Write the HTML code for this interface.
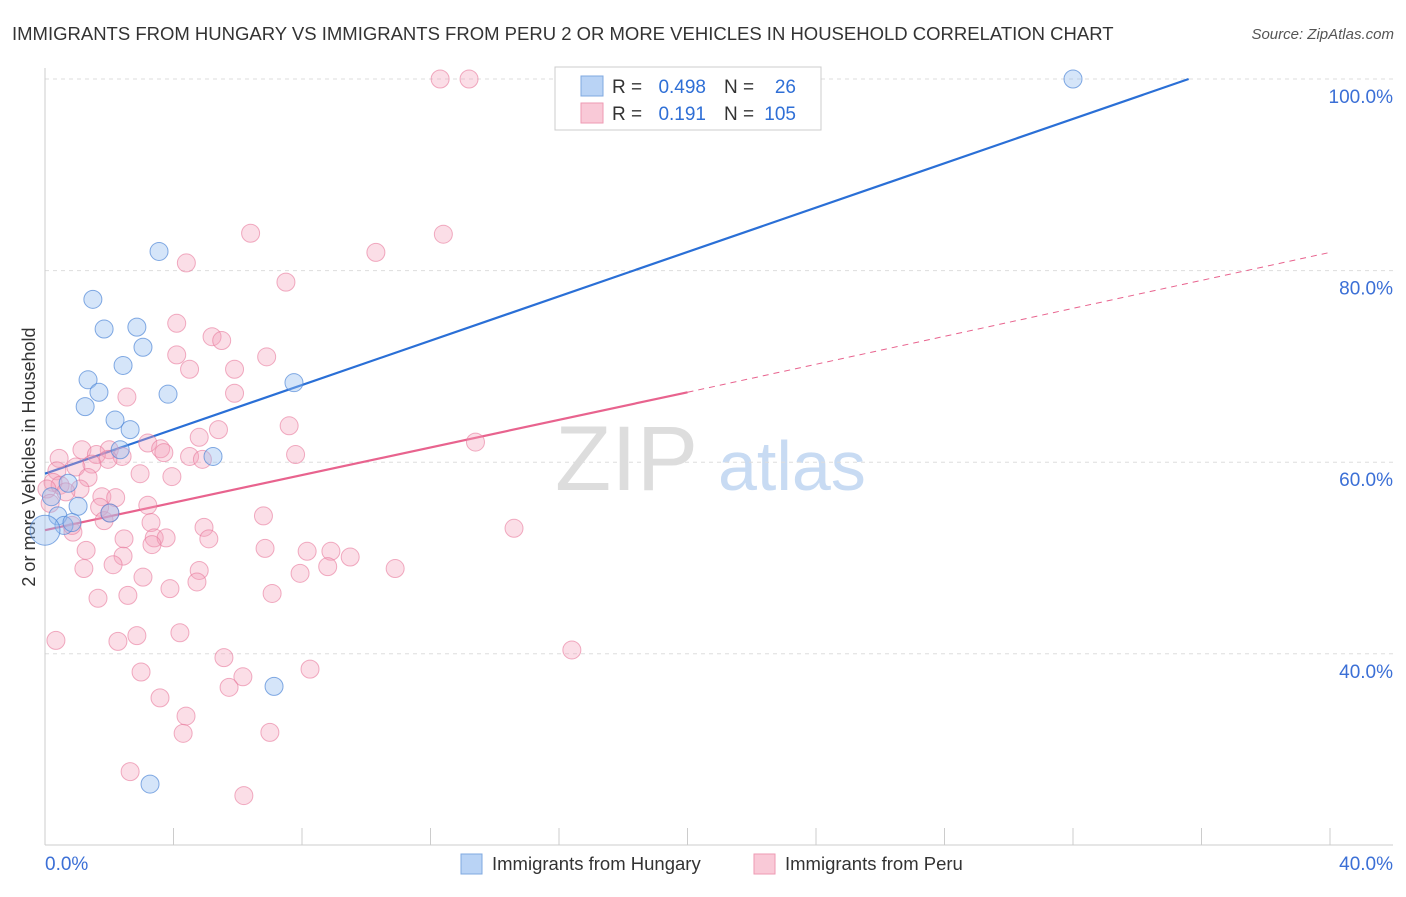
<!DOCTYPE html>
<html><head><meta charset="utf-8"><style>
body{margin:0;background:#fff;font-family:"Liberation Sans",sans-serif;}
svg text{font-family:"Liberation Sans",sans-serif;}
</style></head><body>
<svg width="1406" height="892" xmlns="http://www.w3.org/2000/svg">
<text x="12" y="40" font-size="18.5" fill="#333">IMMIGRANTS FROM HUNGARY VS IMMIGRANTS FROM PERU 2 OR MORE VEHICLES IN HOUSEHOLD CORRELATION CHART</text>
<text x="1394" y="39" font-size="15" fill="#555" font-style="italic" text-anchor="end">Source: ZipAtlas.com</text>
<text x="35" y="457" font-size="18" fill="#333" text-anchor="middle" transform="rotate(-90 35 457)">2 or more Vehicles in Household</text>
<g><text x="555" y="490" font-size="92" fill="#ddd" font-family="Liberation Serif">ZIP</text><text x="718" y="490" font-size="70" fill="#c8dbf3">atlas</text></g>
<g id="grid"></g><g id="axes"></g><g id="lines"></g><g id="pts"></g>
<g>
<rect x="555" y="67" width="266" height="63" fill="#fff" stroke="#ccc"/>
<rect x="581" y="76" width="22" height="20" fill="#b9d3f5" stroke="#7fa8e0"/>
<rect x="581" y="103" width="22" height="20" fill="#f9c9d7" stroke="#ee9ab3"/>
<text x="612" y="93" font-size="19" fill="#333">R =</text>
<text x="706" y="93" font-size="19" fill="#2f6fd6" text-anchor="end">0.498</text>
<text x="724" y="93" font-size="19" fill="#333">N =</text>
<text x="796" y="93" font-size="19" fill="#2f6fd6" text-anchor="end">26</text>
<text x="612" y="120" font-size="19" fill="#333">R =</text>
<text x="706" y="120" font-size="19" fill="#2f6fd6" text-anchor="end">0.191</text>
<text x="724" y="120" font-size="19" fill="#333">N =</text>
<text x="796" y="120" font-size="19" fill="#2f6fd6" text-anchor="end">105</text>
</g>
<g>
<rect x="461" y="854" width="21" height="20" fill="#b9d3f5" stroke="#7fa8e0"/>
<text x="492" y="870" font-size="18.5" fill="#333">Immigrants from Hungary</text>
<rect x="754" y="854" width="21" height="20" fill="#f9c9d7" stroke="#ee9ab3"/>
<text x="785" y="870" font-size="18.5" fill="#333">Immigrants from Peru</text>
</g>
</svg>
<script>
const yTicks=[40,60,80,100];
const xTickLabels=["0.0%","40.0%"];
const hungaryX=[32.0,3.55,1.49,1.84,2.86,3.05,2.43,1.34,7.75,1.68,3.83,1.25,2.18,2.65,2.34,5.23,0.72,1.03,2.02,0.40,0.59,0.84,0,7.13,3.27,0.2];
const hungaryY=[100,82.0,77.0,73.9,74.1,72.0,70.1,68.6,68.3,67.3,67.1,65.8,64.4,63.4,61.3,60.6,57.8,55.4,54.7,54.4,53.4,53.7,52.9,36.6,26.4,56.4];
const peruX=[12.3,13.2,6.4,12.4,10.3,4.4,7.5,4.1,5.2,5.5,4.1,6.9,4.5,5.9,5.9,2.55,7.6,5.4,13.4,4.8,3.2,3.6,3.7,2.0,1.15,1.6,2.4,7.8,4.5,4.9,0.44,1.96,1.46,0.96,0.37,2.96,3.95,1.34,0.25,0.47,0.06,1.09,0.65,1.77,2.2,3.2,1.7,6.8,1.84,3.3,4.95,0.87,3.4,5.1,2.46,3.77,14.6,3.33,6.85,8.16,8.9,9.5,1.28,2.43,4.8,2.12,1.21,8.8,7.94,10.9,3.05,4.73,3.89,2.58,7.07,1.65,0.34,2.86,4.2,2.27,16.4,5.57,2.99,8.25,6.16,5.73,3.58,4.39,4.3,7.0,2.65,6.19,0.16,0.84,2.02];
const peruY=[100,100,83.9,83.8,81.9,80.8,78.8,74.5,73.1,72.7,71.2,71.0,69.7,69.7,67.2,66.8,63.8,63.4,62.1,62.6,62.0,61.4,61.0,61.3,61.3,60.8,60.6,60.8,60.6,60.3,60.4,60.3,59.8,59.5,59.1,58.8,58.5,58.4,57.9,57.6,57.2,57.2,56.9,56.4,56.3,55.5,55.3,54.4,53.9,53.7,53.2,52.7,52.1,52.0,52.0,52.1,53.1,51.4,51.0,50.7,50.7,50.1,50.8,50.2,48.7,49.3,48.9,49.1,48.4,48.9,48.0,47.5,46.8,46.1,46.3,45.8,41.4,41.9,42.2,41.3,40.4,39.6,38.1,38.4,37.6,36.5,35.4,33.5,31.7,31.8,27.7,25.2,55.7,53.4,54.7];
const hungaryTrend=[[0,58.8],[35.6,100]];
const peruTrend=[[0,52.9],[20,67.3],[40,81.9]];
const NS="http://www.w3.org/2000/svg";
const sx=v=>45+v*32.125, sy=v=>1037-v*9.58;
function mk(tag,attrs,parent){const e=document.createElementNS(NS,tag);for(const k in attrs)e.setAttribute(k,attrs[k]);parent.appendChild(e);return e;}
const grid=document.getElementById('grid'),axes=document.getElementById('axes'),lines=document.getElementById('lines'),pts=document.getElementById('pts');
yTicks.forEach(t=>{
 const l=mk('line',{x1:45,x2:1393,y1:sy(t),y2:sy(t),stroke:'#ddd','stroke-dasharray':'4,4'},grid);
 
 
 const tx=mk('text',{x:1393,y:sy(t)+24,'font-size':19,fill:'#3b6fd6','text-anchor':'end'},axes);
 tx.textContent=t.toFixed(1)+'%';
 
 
});
const xa=mk('line',{x1:45,x2:1393,y1:845,y2:845,stroke:'#ccc'},axes);


const ya=mk('line',{x1:45,x2:45,y1:68,y2:845,stroke:'#ccc'},axes);


for(let i=0;i<=10;i++){const t=mk('line',{x1:sx(i*4),x2:sx(i*4),y1:828,y2:845,stroke:'#ccc'},axes);
 
 }
[[0,'start',45],[40,'end',1393]].forEach((d,i)=>{const t=mk('text',{x:d[2],y:870,'font-size':19,fill:'#3b6fd6','text-anchor':d[1]},axes);t.textContent=xTickLabels[i];
 
 });
const bl=mk('line',{x1:sx(hungaryTrend[0][0]),y1:sy(hungaryTrend[0][1]),x2:sx(hungaryTrend[1][0]),y2:sy(hungaryTrend[1][1]),stroke:'#2a6fd6','stroke-width':2.2},lines);


const pl=mk('line',{x1:sx(peruTrend[0][0]),y1:sy(peruTrend[0][1]),x2:sx(peruTrend[1][0]),y2:sy(peruTrend[1][1]),stroke:'#e8638e','stroke-width':2.2},lines);


const pd=mk('line',{x1:sx(peruTrend[1][0]),y1:sy(peruTrend[1][1]),x2:sx(peruTrend[2][0]),y2:sy(peruTrend[2][1]),stroke:'#e8638e','stroke-width':1,'stroke-dasharray':'6,5'},lines);


peruX.forEach((x,i)=>{const c=mk('circle',{cx:sx(x),cy:sy(peruY[i]),r:9,fill:'rgba(244,160,185,0.35)',stroke:'rgba(232,120,155,0.6)','stroke-width':1},pts);
 
 });
hungaryX.forEach((x,i)=>{const c=mk('circle',{cx:sx(x),cy:sy(hungaryY[i]),r:(x===0?15:9),fill:'rgba(150,190,240,0.4)',stroke:'rgba(80,135,215,0.7)','stroke-width':1},pts);
 
 });
</script>
</body></html>
